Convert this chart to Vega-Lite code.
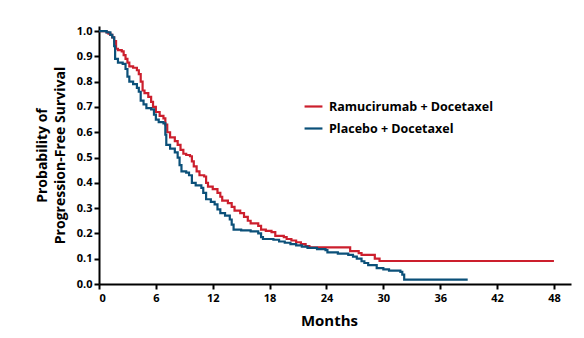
{
  "$schema": "https://vega.github.io/schema/vega-lite/v6.json",
  "autosize": "none",
  "width": 472,
  "height": 258,
  "padding": {"left": 99, "top": 26, "right": 13, "bottom": 54},
  "background": "white",
  "config": {
    "view": {"stroke": null},
    "font": "Open Sans",
    "axis": {"grid": false, "domainColor": "black", "domainWidth": 2, "tickColor": "black", "tickWidth": 2, "tickSize": 5, "labelFont": "Open Sans", "labelFontWeight": "bold", "labelFontSize": 11, "labelColor": "black", "titleFont": "Open Sans", "titleFontWeight": "bold", "titleColor": "black"}
  },
  "data": {"values": [
    {"arm": "Ramucirumab + Docetaxel", "m": 0, "s": 1.0},
    {"arm": "Ramucirumab + Docetaxel", "m": 0.8, "s": 0.995},
    {"arm": "Ramucirumab + Docetaxel", "m": 1.0, "s": 0.99},
    {"arm": "Ramucirumab + Docetaxel", "m": 1.2, "s": 0.985},
    {"arm": "Ramucirumab + Docetaxel", "m": 1.4, "s": 0.975},
    {"arm": "Ramucirumab + Docetaxel", "m": 1.6, "s": 0.96},
    {"arm": "Ramucirumab + Docetaxel", "m": 1.8, "s": 0.93},
    {"arm": "Ramucirumab + Docetaxel", "m": 2.0, "s": 0.925},
    {"arm": "Ramucirumab + Docetaxel", "m": 2.4, "s": 0.92},
    {"arm": "Ramucirumab + Docetaxel", "m": 2.6, "s": 0.905},
    {"arm": "Ramucirumab + Docetaxel", "m": 2.8, "s": 0.89},
    {"arm": "Ramucirumab + Docetaxel", "m": 3.0, "s": 0.875},
    {"arm": "Ramucirumab + Docetaxel", "m": 3.2, "s": 0.86},
    {"arm": "Ramucirumab + Docetaxel", "m": 3.6, "s": 0.855},
    {"arm": "Ramucirumab + Docetaxel", "m": 4.0, "s": 0.845},
    {"arm": "Ramucirumab + Docetaxel", "m": 4.2, "s": 0.83},
    {"arm": "Ramucirumab + Docetaxel", "m": 4.4, "s": 0.80},
    {"arm": "Ramucirumab + Docetaxel", "m": 4.6, "s": 0.765},
    {"arm": "Ramucirumab + Docetaxel", "m": 4.8, "s": 0.755},
    {"arm": "Ramucirumab + Docetaxel", "m": 5.2, "s": 0.74},
    {"arm": "Ramucirumab + Docetaxel", "m": 5.5, "s": 0.72},
    {"arm": "Ramucirumab + Docetaxel", "m": 5.7, "s": 0.70},
    {"arm": "Ramucirumab + Docetaxel", "m": 6.0, "s": 0.68},
    {"arm": "Ramucirumab + Docetaxel", "m": 6.4, "s": 0.665},
    {"arm": "Ramucirumab + Docetaxel", "m": 6.8, "s": 0.655},
    {"arm": "Ramucirumab + Docetaxel", "m": 7.0, "s": 0.63},
    {"arm": "Ramucirumab + Docetaxel", "m": 7.2, "s": 0.60},
    {"arm": "Ramucirumab + Docetaxel", "m": 7.5, "s": 0.58},
    {"arm": "Ramucirumab + Docetaxel", "m": 8.0, "s": 0.565},
    {"arm": "Ramucirumab + Docetaxel", "m": 8.3, "s": 0.55},
    {"arm": "Ramucirumab + Docetaxel", "m": 8.6, "s": 0.53},
    {"arm": "Ramucirumab + Docetaxel", "m": 8.9, "s": 0.515},
    {"arm": "Ramucirumab + Docetaxel", "m": 9.2, "s": 0.51},
    {"arm": "Ramucirumab + Docetaxel", "m": 9.6, "s": 0.505},
    {"arm": "Ramucirumab + Docetaxel", "m": 9.8, "s": 0.485},
    {"arm": "Ramucirumab + Docetaxel", "m": 10.0, "s": 0.465},
    {"arm": "Ramucirumab + Docetaxel", "m": 10.3, "s": 0.445},
    {"arm": "Ramucirumab + Docetaxel", "m": 10.6, "s": 0.43},
    {"arm": "Ramucirumab + Docetaxel", "m": 11.1, "s": 0.425},
    {"arm": "Ramucirumab + Docetaxel", "m": 11.3, "s": 0.40},
    {"arm": "Ramucirumab + Docetaxel", "m": 11.5, "s": 0.385},
    {"arm": "Ramucirumab + Docetaxel", "m": 12.0, "s": 0.375},
    {"arm": "Ramucirumab + Docetaxel", "m": 12.5, "s": 0.36},
    {"arm": "Ramucirumab + Docetaxel", "m": 12.8, "s": 0.345},
    {"arm": "Ramucirumab + Docetaxel", "m": 13.0, "s": 0.33},
    {"arm": "Ramucirumab + Docetaxel", "m": 13.6, "s": 0.32},
    {"arm": "Ramucirumab + Docetaxel", "m": 14.0, "s": 0.305},
    {"arm": "Ramucirumab + Docetaxel", "m": 14.3, "s": 0.29},
    {"arm": "Ramucirumab + Docetaxel", "m": 14.9, "s": 0.28},
    {"arm": "Ramucirumab + Docetaxel", "m": 15.3, "s": 0.265},
    {"arm": "Ramucirumab + Docetaxel", "m": 15.7, "s": 0.25},
    {"arm": "Ramucirumab + Docetaxel", "m": 16.0, "s": 0.24},
    {"arm": "Ramucirumab + Docetaxel", "m": 16.8, "s": 0.23},
    {"arm": "Ramucirumab + Docetaxel", "m": 17.1, "s": 0.215},
    {"arm": "Ramucirumab + Docetaxel", "m": 17.6, "s": 0.21},
    {"arm": "Ramucirumab + Docetaxel", "m": 18.2, "s": 0.205},
    {"arm": "Ramucirumab + Docetaxel", "m": 18.6, "s": 0.19},
    {"arm": "Ramucirumab + Docetaxel", "m": 19.5, "s": 0.185},
    {"arm": "Ramucirumab + Docetaxel", "m": 19.8, "s": 0.178},
    {"arm": "Ramucirumab + Docetaxel", "m": 20.3, "s": 0.172},
    {"arm": "Ramucirumab + Docetaxel", "m": 20.8, "s": 0.165},
    {"arm": "Ramucirumab + Docetaxel", "m": 21.3, "s": 0.158},
    {"arm": "Ramucirumab + Docetaxel", "m": 21.8, "s": 0.15},
    {"arm": "Ramucirumab + Docetaxel", "m": 22.2, "s": 0.145},
    {"arm": "Ramucirumab + Docetaxel", "m": 26.5, "s": 0.13},
    {"arm": "Ramucirumab + Docetaxel", "m": 27.4, "s": 0.122},
    {"arm": "Ramucirumab + Docetaxel", "m": 27.7, "s": 0.115},
    {"arm": "Ramucirumab + Docetaxel", "m": 29.1, "s": 0.10},
    {"arm": "Ramucirumab + Docetaxel", "m": 29.6, "s": 0.091},
    {"arm": "Ramucirumab + Docetaxel", "m": 48, "s": 0.091},
    {"arm": "Placebo + Docetaxel", "m": 0, "s": 1.0},
    {"arm": "Placebo + Docetaxel", "m": 0.8, "s": 0.995},
    {"arm": "Placebo + Docetaxel", "m": 1.2, "s": 0.985},
    {"arm": "Placebo + Docetaxel", "m": 1.4, "s": 0.975},
    {"arm": "Placebo + Docetaxel", "m": 1.6, "s": 0.94},
    {"arm": "Placebo + Docetaxel", "m": 1.7, "s": 0.89},
    {"arm": "Placebo + Docetaxel", "m": 2.0, "s": 0.875},
    {"arm": "Placebo + Docetaxel", "m": 2.5, "s": 0.87},
    {"arm": "Placebo + Docetaxel", "m": 2.8, "s": 0.85},
    {"arm": "Placebo + Docetaxel", "m": 3.0, "s": 0.82},
    {"arm": "Placebo + Docetaxel", "m": 3.2, "s": 0.80},
    {"arm": "Placebo + Docetaxel", "m": 3.6, "s": 0.79},
    {"arm": "Placebo + Docetaxel", "m": 4.0, "s": 0.775},
    {"arm": "Placebo + Docetaxel", "m": 4.2, "s": 0.76},
    {"arm": "Placebo + Docetaxel", "m": 4.4, "s": 0.725},
    {"arm": "Placebo + Docetaxel", "m": 4.7, "s": 0.71},
    {"arm": "Placebo + Docetaxel", "m": 5.0, "s": 0.695},
    {"arm": "Placebo + Docetaxel", "m": 5.5, "s": 0.69},
    {"arm": "Placebo + Docetaxel", "m": 5.8, "s": 0.67},
    {"arm": "Placebo + Docetaxel", "m": 6.0, "s": 0.65},
    {"arm": "Placebo + Docetaxel", "m": 6.3, "s": 0.64},
    {"arm": "Placebo + Docetaxel", "m": 6.8, "s": 0.635},
    {"arm": "Placebo + Docetaxel", "m": 7.0, "s": 0.59},
    {"arm": "Placebo + Docetaxel", "m": 7.1, "s": 0.55},
    {"arm": "Placebo + Docetaxel", "m": 7.5, "s": 0.535},
    {"arm": "Placebo + Docetaxel", "m": 8.0, "s": 0.52},
    {"arm": "Placebo + Docetaxel", "m": 8.3, "s": 0.50},
    {"arm": "Placebo + Docetaxel", "m": 8.5, "s": 0.47},
    {"arm": "Placebo + Docetaxel", "m": 8.7, "s": 0.445},
    {"arm": "Placebo + Docetaxel", "m": 9.2, "s": 0.44},
    {"arm": "Placebo + Docetaxel", "m": 9.5, "s": 0.43},
    {"arm": "Placebo + Docetaxel", "m": 9.8, "s": 0.40},
    {"arm": "Placebo + Docetaxel", "m": 10.2, "s": 0.39},
    {"arm": "Placebo + Docetaxel", "m": 10.8, "s": 0.38},
    {"arm": "Placebo + Docetaxel", "m": 11.0, "s": 0.36},
    {"arm": "Placebo + Docetaxel", "m": 11.3, "s": 0.335},
    {"arm": "Placebo + Docetaxel", "m": 11.8, "s": 0.325},
    {"arm": "Placebo + Docetaxel", "m": 12.2, "s": 0.315},
    {"arm": "Placebo + Docetaxel", "m": 12.5, "s": 0.295},
    {"arm": "Placebo + Docetaxel", "m": 12.8, "s": 0.28},
    {"arm": "Placebo + Docetaxel", "m": 13.3, "s": 0.27},
    {"arm": "Placebo + Docetaxel", "m": 13.8, "s": 0.255},
    {"arm": "Placebo + Docetaxel", "m": 14.0, "s": 0.235},
    {"arm": "Placebo + Docetaxel", "m": 14.2, "s": 0.215},
    {"arm": "Placebo + Docetaxel", "m": 15.0, "s": 0.212},
    {"arm": "Placebo + Docetaxel", "m": 16.0, "s": 0.208},
    {"arm": "Placebo + Docetaxel", "m": 16.8, "s": 0.20},
    {"arm": "Placebo + Docetaxel", "m": 17.1, "s": 0.185},
    {"arm": "Placebo + Docetaxel", "m": 17.3, "s": 0.178},
    {"arm": "Placebo + Docetaxel", "m": 18.4, "s": 0.175},
    {"arm": "Placebo + Docetaxel", "m": 19.0, "s": 0.168},
    {"arm": "Placebo + Docetaxel", "m": 19.6, "s": 0.163},
    {"arm": "Placebo + Docetaxel", "m": 20.2, "s": 0.158},
    {"arm": "Placebo + Docetaxel", "m": 20.8, "s": 0.153},
    {"arm": "Placebo + Docetaxel", "m": 21.4, "s": 0.148},
    {"arm": "Placebo + Docetaxel", "m": 22.0, "s": 0.143},
    {"arm": "Placebo + Docetaxel", "m": 23.0, "s": 0.138},
    {"arm": "Placebo + Docetaxel", "m": 23.9, "s": 0.134},
    {"arm": "Placebo + Docetaxel", "m": 24.1, "s": 0.125},
    {"arm": "Placebo + Docetaxel", "m": 25.2, "s": 0.12},
    {"arm": "Placebo + Docetaxel", "m": 26.3, "s": 0.115},
    {"arm": "Placebo + Docetaxel", "m": 26.8, "s": 0.108},
    {"arm": "Placebo + Docetaxel", "m": 27.2, "s": 0.10},
    {"arm": "Placebo + Docetaxel", "m": 27.7, "s": 0.09},
    {"arm": "Placebo + Docetaxel", "m": 28.0, "s": 0.083},
    {"arm": "Placebo + Docetaxel", "m": 28.4, "s": 0.075},
    {"arm": "Placebo + Docetaxel", "m": 29.3, "s": 0.063},
    {"arm": "Placebo + Docetaxel", "m": 30.0, "s": 0.058},
    {"arm": "Placebo + Docetaxel", "m": 30.6, "s": 0.053},
    {"arm": "Placebo + Docetaxel", "m": 31.8, "s": 0.048},
    {"arm": "Placebo + Docetaxel", "m": 32.0, "s": 0.037},
    {"arm": "Placebo + Docetaxel", "m": 32.2, "s": 0.017},
    {"arm": "Placebo + Docetaxel", "m": 38.9, "s": 0.017}
  ]},
  "mark": {"type": "line", "interpolate": "step-after", "strokeWidth": 2.2},
  "encoding": {
    "x": {"field": "m", "type": "quantitative", "scale": {"domain": [0, 49.8], "nice": false, "zero": false},
      "axis": {"values": [0, 6, 12, 18, 24, 30, 36, 42, 48], "title": "Months", "titleFontSize": 15, "titlePadding": 10, "labelPadding": 3, "titleX": 230}},
    "y": {"field": "s", "type": "quantitative", "scale": {"domain": [0, 1.02], "nice": false},
      "axis": {"values": [0, 0.1, 0.2, 0.3, 0.4, 0.5, 0.6, 0.7, 0.8, 0.9, 1.0], "format": ".1f", "title": ["Probability of", "Progression-Free Survival"], "titleFontSize": 14, "titlePadding": 9, "titleLineHeight": 18, "labelPadding": 2}},
    "color": {"field": "arm", "type": "nominal",
      "scale": {"domain": ["Ramucirumab + Docetaxel", "Placebo + Docetaxel"], "range": ["#CC1F2D", "#0B5079"]},
      "legend": {"title": null, "orient": "none", "legendX": 204, "legendY": 70, "symbolType": "stroke", "symbolSize": 320, "symbolStrokeWidth": 2.2, "labelFont": "Open Sans", "labelFontWeight": "bold", "labelFontSize": 12.5, "labelColor": "black", "labelLimit": 400, "rowPadding": 5, "labelOffset": 5}
    }
  }
}
